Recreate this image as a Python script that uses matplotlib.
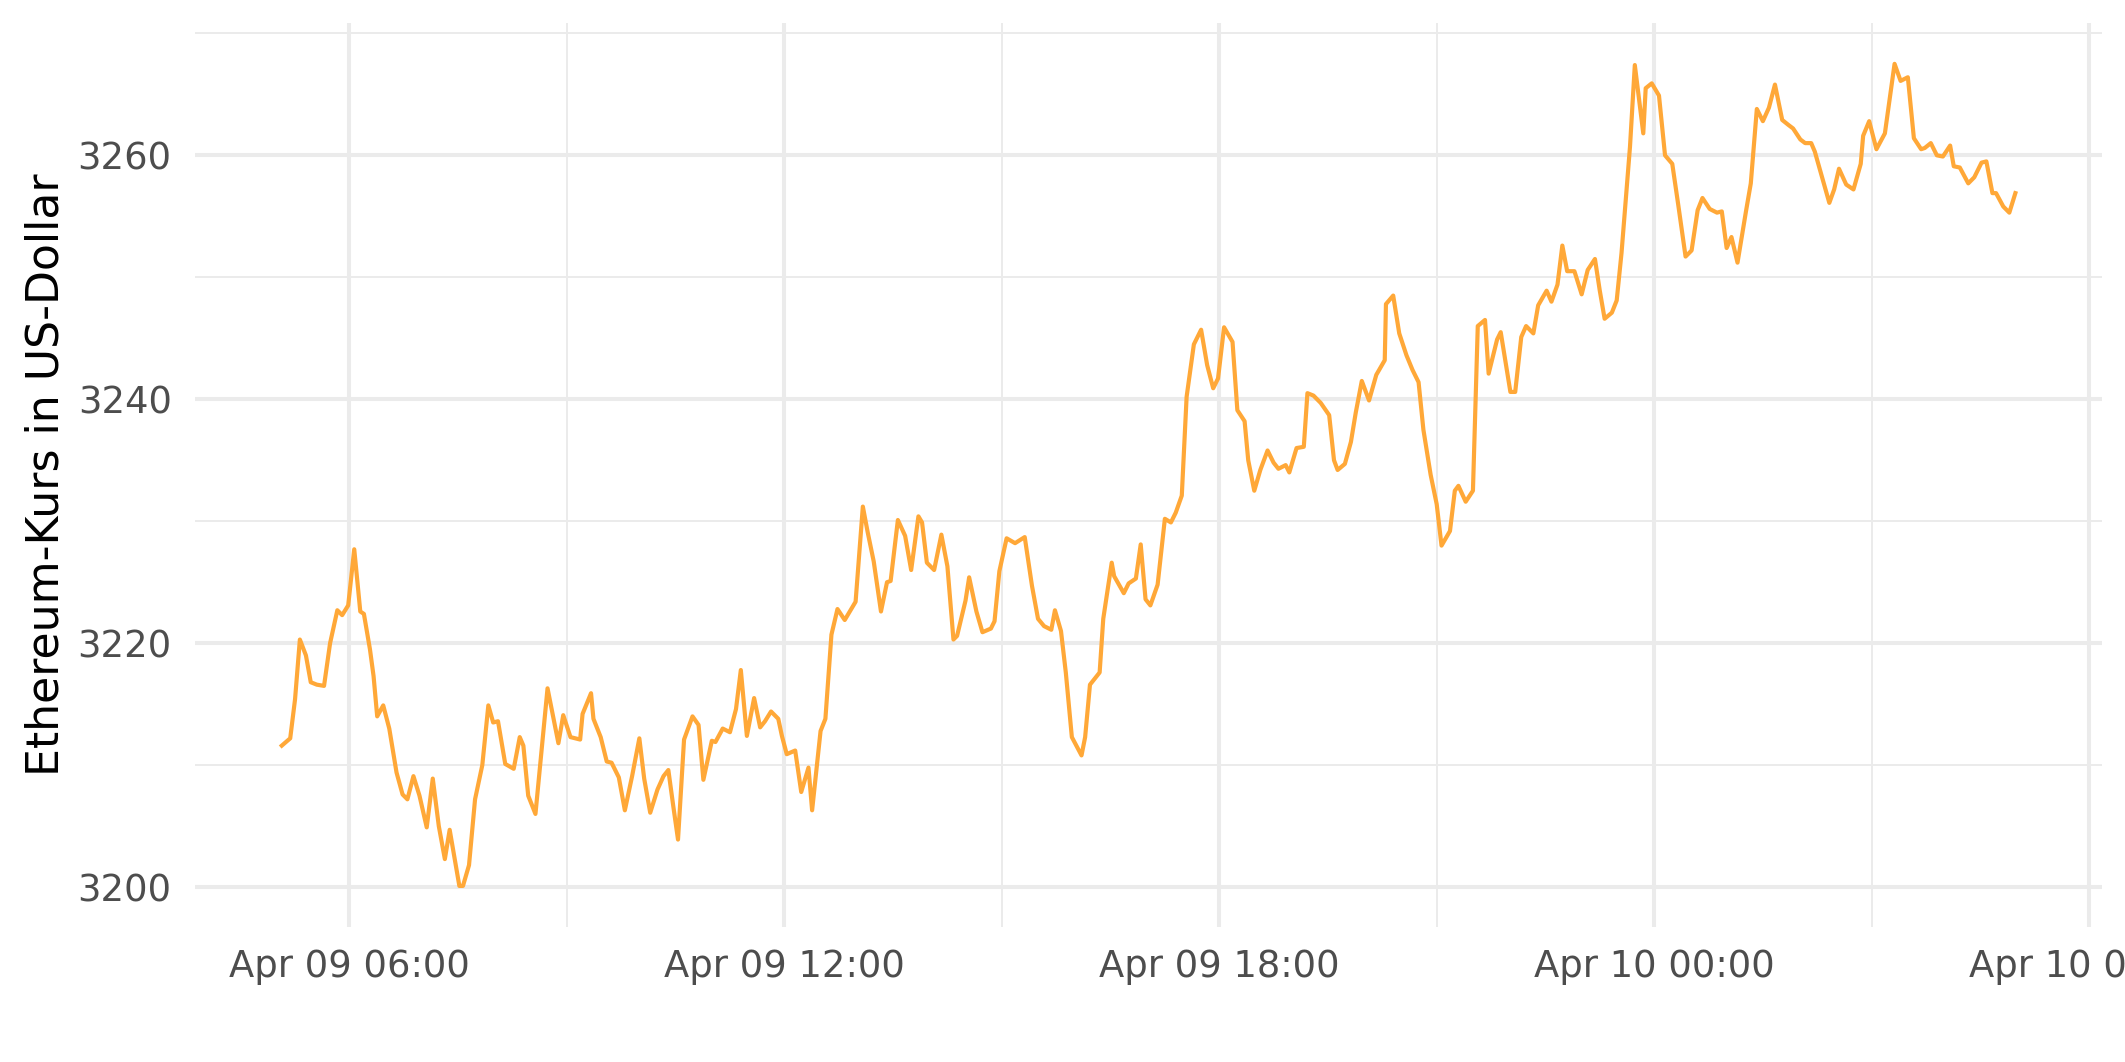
import matplotlib
matplotlib.use("Agg")
import matplotlib.pyplot as plt
import matplotlib.dates as mdates
from matplotlib.ticker import MultipleLocator
import pandas as pd

# minutes after Apr 09 06:00
minutes = [
    -56, -49, -45, -41, -36, -32, -27, -21, -16, -10, -6, -1, 4, 9, 12, 17, 20, 23, 28, 33,
    39, 44, 48, 53, 58, 64, 69, 74, 79, 83, 91, 94, 99, 104, 110, 115, 119, 123, 129, 136,
    141, 144, 148, 154, 164, 173,
    177, 183, 191, 193, 200, 202, 208, 213, 217, 223, 228, 234, 240, 244, 249, 255, 260, 264,
    268, 272, 277, 284, 289, 293, 300, 303, 309, 315, 320, 324, 329, 335, 340, 344, 349, 355,
    358, 362, 369, 374, 380, 383, 390, 394, 399, 404, 410, 419, 425, 429, 434, 440, 445, 448,
    454, 460, 465, 471,
    474, 478, 484, 490, 495, 500, 503, 510, 513, 519, 524, 531, 534, 538, 544, 551, 559, 565,
    570, 575, 581, 584, 589, 593, 598, 606, 609, 613, 621, 624, 631, 633, 641, 645, 651, 655,
    659, 663, 669, 675, 680, 684, 689, 693, 699, 705, 710, 715, 719, 724, 731, 735, 741, 744,
    749, 754, 760, 765, 769,
    775, 778, 784, 790, 793, 798, 804, 811, 815, 818, 824, 829, 833, 838, 844, 850, 857, 858,
    864, 869, 875, 880, 885, 889, 895, 900, 904, 911, 915, 918, 924, 930, 934, 940, 943, 950,
    953, 961, 965, 970, 974, 980, 984, 991, 995, 1000, 1004, 1008, 1014, 1020, 1025, 1031,
    1035, 1039, 1045, 1049, 1053,
    1060, 1064, 1071, 1073, 1078, 1084, 1089, 1095, 1100, 1106, 1111, 1116, 1120, 1126, 1132,
    1136, 1140, 1144, 1149, 1156, 1160, 1165, 1170, 1175, 1180, 1186, 1191, 1195, 1201, 1205,
    1210, 1213, 1219, 1225, 1229, 1233, 1239, 1245, 1251, 1253, 1258, 1264, 1271, 1279, 1284,
    1290, 1295, 1301, 1304, 1309, 1314, 1319, 1325, 1328, 1333, 1340, 1345, 1351, 1355, 1360,
    1363, 1369, 1374, 1379,
]

price = [
    3211.6, 3212.2, 3215.4, 3220.3, 3219.0, 3216.8, 3216.6, 3216.5, 3220.0, 3222.7, 3222.3,
    3223.1, 3227.7, 3222.6, 3222.4, 3219.5, 3217.3, 3214.0, 3214.9, 3213.0, 3209.4, 3207.6,
    3207.2, 3209.1, 3207.5, 3204.9, 3208.9, 3205.0, 3202.3, 3204.7, 3200.1, 3200.1, 3201.8,
    3207.2, 3210.0, 3214.9, 3213.5, 3213.6, 3210.1, 3209.7, 3212.3, 3211.6, 3207.5, 3206.0,
    3216.3, 3211.8,
    3214.1, 3212.3, 3212.1, 3214.2, 3215.9, 3213.8, 3212.3, 3210.3, 3210.2, 3209.0, 3206.3,
    3209.1, 3212.2, 3208.9, 3206.1, 3208.0, 3209.1, 3209.6, 3206.7, 3203.9, 3212.1, 3214.0,
    3213.3, 3208.8, 3212.0, 3211.9, 3213.0, 3212.7, 3214.6, 3217.8, 3212.4, 3215.5, 3213.1,
    3213.6, 3214.4, 3213.8, 3212.4, 3210.9, 3211.2, 3207.8, 3209.8, 3206.3, 3212.8, 3213.8,
    3220.7, 3222.8, 3221.9, 3223.4, 3231.2, 3229.1, 3226.7, 3222.6, 3225.0, 3225.1, 3230.1,
    3228.8, 3226.0, 3230.4,
    3229.9, 3226.6, 3226.0, 3228.9, 3226.3, 3220.3, 3220.6, 3223.5, 3225.4, 3222.6, 3220.9,
    3221.2, 3221.8, 3225.9, 3228.6, 3228.2, 3228.7, 3224.7, 3222.0, 3221.4, 3221.1, 3222.7,
    3221.0, 3217.6, 3212.3, 3210.8, 3212.3, 3216.6, 3217.6, 3222.0, 3226.6, 3225.5, 3224.1,
    3224.9, 3225.3, 3228.1, 3223.6, 3223.1, 3224.8, 3230.2, 3229.9, 3230.7, 3232.1, 3240.2,
    3244.5, 3245.7, 3242.8, 3240.9, 3241.7, 3245.9, 3244.7, 3239.1, 3238.2, 3235.0, 3232.5,
    3234.2, 3235.8, 3234.8, 3234.3,
    3234.6, 3234.0, 3236.0, 3236.1, 3240.5, 3240.3, 3239.7, 3238.7, 3235.0, 3234.2, 3234.7,
    3236.5, 3238.9, 3241.5, 3239.9, 3242.0, 3243.2, 3247.8, 3248.5, 3245.4, 3243.6, 3242.4,
    3241.4, 3237.5, 3233.8, 3231.4, 3228.0, 3229.2, 3232.5, 3232.9, 3231.6, 3232.5, 3246.0,
    3246.5, 3242.1, 3244.9, 3245.5, 3240.6, 3240.6, 3245.1, 3246.0, 3245.4, 3247.7, 3248.9,
    3248.0, 3249.4, 3252.6, 3250.5, 3250.5, 3248.6, 3250.6, 3251.5, 3248.9, 3246.6, 3247.1,
    3248.1, 3252.0,
    3260.7, 3267.4, 3261.8, 3265.5, 3265.9, 3264.9, 3260.0, 3259.3, 3255.9, 3251.7, 3252.2,
    3255.5, 3256.5, 3255.6, 3255.3, 3255.4, 3252.4, 3253.3, 3251.2, 3255.4, 3257.7, 3263.8,
    3262.8, 3263.9, 3265.8, 3262.9, 3262.5, 3262.2, 3261.3, 3261.0, 3261.0, 3260.3, 3258.2,
    3256.1, 3257.2, 3258.9, 3257.6, 3257.2, 3259.3, 3261.6, 3262.8, 3260.5, 3261.8, 3267.5,
    3266.1, 3266.4, 3261.4, 3260.5, 3260.6, 3261.0, 3260.0, 3259.9, 3260.8, 3259.1, 3259.0,
    3257.7, 3258.2, 3259.4, 3259.5, 3256.9, 3256.9, 3255.8, 3255.3, 3256.9,
]

times = pd.Timestamp("2024-04-09 06:00") + pd.to_timedelta(minutes, unit="m")

grid_col = "#EBEBEB"
text_col = "#4D4D4D"

fig = plt.figure(figsize=(10.625, 5.31), dpi=200)
ax = fig.add_axes([0.0918, 0.1271, 0.8974, 0.8515])

ax.plot(times, price, color="#FFA838", linewidth=1.5)
ax.margins(x=0.05, y=0.05)

ax.xaxis.set_major_locator(mdates.HourLocator(byhour=[0, 6, 12, 18]))
ax.xaxis.set_minor_locator(mdates.HourLocator(byhour=[3, 9, 15, 21]))
ax.xaxis.set_major_formatter(mdates.DateFormatter("%b %d %H:%M"))
ax.yaxis.set_major_locator(MultipleLocator(20))
ax.yaxis.set_minor_locator(MultipleLocator(10))

ax.grid(which="major", color=grid_col, linewidth=1.45)
ax.grid(which="minor", color=grid_col, linewidth=0.72)
ax.set_axisbelow(True)
for s in ax.spines.values():
    s.set_visible(False)

ax.tick_params(which="both", length=0)
ax.tick_params(axis="x", labelsize=13.3, labelcolor=text_col, pad=7.6)
ax.tick_params(axis="y", labelsize=13.3, labelcolor=text_col, pad=8.4)

ax.set_ylabel("Ethereum-Kurs in US-Dollar", fontsize=15.9, color="black")
ax.yaxis.set_label_coords(-0.067, 0.5)

fig.savefig("out.png", dpi=200)
